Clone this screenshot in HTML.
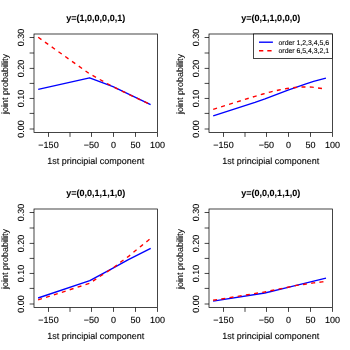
<!DOCTYPE html>
<html><head><meta charset="utf-8"><title>plot</title>
<style>
html,body{margin:0;padding:0;background:#fff;}
body{width:350px;height:350px;overflow:hidden;}
svg{display:block;will-change:transform;}
text{font-family:"Liberation Sans",sans-serif;text-rendering:geometricPrecision;fill:#000;stroke:#000;stroke-width:0.1px;}
.t{font-size:9px;font-weight:bold;text-anchor:middle;stroke-width:0.08px;}
.a{font-size:9px;text-anchor:middle;}
.v{stroke-width:0.04px;}
.l{font-size:6.9px;stroke-width:0.1px;}
.ax{stroke:#000;stroke-width:0.73;fill:none;}
.b{stroke:#0000ff;stroke-width:1.38;fill:none;stroke-linejoin:round;}
.r{stroke:#ff0000;stroke-width:1.38;fill:none;stroke-dasharray:4 4.3;stroke-linejoin:round;}
</style></head><body>
<svg width="350" height="350" viewBox="0 0 350 350">
<rect width="350" height="350" fill="#fff"/>

<g transform="translate(0,0)">
<text class="t" x="95.75" y="21">y=(1,0,0,0,0,1)</text>
<polyline class="b" points="38.2,89.4 89.6,77.8 113.0,86.7 150.6,104.6"/>
<polyline class="r" points="38.2,37.3 89.5,73.8 113.0,86.8 150.6,104.7"/>
<rect class="ax" x="34.0" y="34.0" width="123.5" height="98.5"/>
<path class="ax" d="M48.5 132.5V136.9M70.0 132.5V136.9M91.5 132.5V136.9M113.5 132.5V136.9M135.5 132.5V136.9M157.5 132.5V136.9M34.0 129.00H29.6M34.0 113.40H29.6M34.0 98.45H29.6M34.0 83.40H29.6M34.0 68.40H29.6M34.0 53.00H29.6M34.0 37.50H29.6"/>
<text class="a" x="48.5" y="147.6">−150</text>
<text class="a" x="91.5" y="147.6">−50</text>
<text class="a" x="113.5" y="147.6">0</text>
<text class="a" x="135.5" y="147.6">50</text>
<text class="a" x="157.5" y="147.6">100</text>
<text class="a v" transform="translate(23.9,129.00) rotate(-90)">0.00</text>
<text class="a v" transform="translate(23.9,98.45) rotate(-90)">0.10</text>
<text class="a v" transform="translate(23.9,68.40) rotate(-90)">0.20</text>
<text class="a v" transform="translate(23.9,37.50) rotate(-90)">0.30</text>
<text class="a" x="95.75" y="164.3">1st principial component</text>
<text class="a v" transform="translate(8.1,84) rotate(-90)">joint probability</text>
</g>
<g transform="translate(175,0)">
<text class="t" x="95.75" y="21">y=(0,1,1,0,0,0)</text>
<polyline class="b" points="38.2,115.8 80.0,102.3 90.0,98.8 113.0,90.1 131.0,83.8 138.6,81.4 150.9,78.1"/>
<polyline class="r" points="38.2,109.3 80.0,96.3 88.0,94.0 96.0,91.8 104.0,90.0 112.0,88.5 120.0,87.5 128.6,86.9 137.1,87.1 147.4,88.6 150.9,89.2"/>
<rect class="ax" x="34.0" y="34.0" width="123.5" height="98.5"/>
<path class="ax" d="M48.5 132.5V136.9M70.0 132.5V136.9M91.5 132.5V136.9M113.5 132.5V136.9M135.5 132.5V136.9M157.5 132.5V136.9M34.0 129.00H29.6M34.0 113.40H29.6M34.0 98.45H29.6M34.0 83.40H29.6M34.0 68.40H29.6M34.0 53.00H29.6M34.0 37.50H29.6"/>
<text class="a" x="48.5" y="147.6">−150</text>
<text class="a" x="91.5" y="147.6">−50</text>
<text class="a" x="113.5" y="147.6">0</text>
<text class="a" x="135.5" y="147.6">50</text>
<text class="a" x="157.5" y="147.6">100</text>
<text class="a v" transform="translate(23.9,129.00) rotate(-90)">0.00</text>
<text class="a v" transform="translate(23.9,98.45) rotate(-90)">0.10</text>
<text class="a v" transform="translate(23.9,68.40) rotate(-90)">0.20</text>
<text class="a v" transform="translate(23.9,37.50) rotate(-90)">0.30</text>
<text class="a" x="95.75" y="164.3">1st principial component</text>
<text class="a v" transform="translate(8.1,84) rotate(-90)">joint probability</text>
<rect class="ax" x="78.5" y="34" width="79.0" height="24.5" fill="#fff" style="fill:#fff"/>
<path d="M84 42.2H97.9" style="stroke:#0000ff;stroke-width:1.38"/>
<path d="M84 50.7H97.9" style="stroke:#ff0000;stroke-width:1.38;stroke-dasharray:4.3 4"/>
<text class="l" x="103.5" y="44.6">order 1,2,3,4,5,6</text>
<text class="l" x="103.5" y="53.1">order 6,5,4,3,2,1</text>
</g>
<g transform="translate(0,175)">
<text class="t" x="95.75" y="21">y=(0,0,1,1,1,0)</text>
<polyline class="b" points="38.1,123.0 89.8,105.7 113.0,93.1 128.4,84.6 150.7,73.4"/>
<polyline class="r" points="38.1,124.9 89.5,108.4 102.1,100.0 113.0,93.0 122.1,86.0 128.9,81.1 135.3,75.8 141.7,70.6 148.1,65.5 150.7,63.3"/>
<rect class="ax" x="34.0" y="34.0" width="123.5" height="98.5"/>
<path class="ax" d="M48.5 132.5V136.9M70.0 132.5V136.9M91.5 132.5V136.9M113.5 132.5V136.9M135.5 132.5V136.9M157.5 132.5V136.9M34.0 129.00H29.6M34.0 113.40H29.6M34.0 98.45H29.6M34.0 83.40H29.6M34.0 68.40H29.6M34.0 53.00H29.6M34.0 37.50H29.6"/>
<text class="a" x="48.5" y="147.6">−150</text>
<text class="a" x="91.5" y="147.6">−50</text>
<text class="a" x="113.5" y="147.6">0</text>
<text class="a" x="135.5" y="147.6">50</text>
<text class="a" x="157.5" y="147.6">100</text>
<text class="a v" transform="translate(23.9,129.00) rotate(-90)">0.00</text>
<text class="a v" transform="translate(23.9,98.45) rotate(-90)">0.10</text>
<text class="a v" transform="translate(23.9,68.40) rotate(-90)">0.20</text>
<text class="a v" transform="translate(23.9,37.50) rotate(-90)">0.30</text>
<text class="a" x="95.75" y="164.3">1st principial component</text>
<text class="a v" transform="translate(8.1,84) rotate(-90)">joint probability</text>
</g>
<g transform="translate(175,175)">
<text class="t" x="95.75" y="21">y=(0,0,0,1,1,0)</text>
<polyline class="b" points="38.1,126.1 89.8,118.0 113.0,112.3 151.0,103.1"/>
<polyline class="r" points="38.1,125.3 89.5,117.0 113.0,112.2 121.4,110.4 130.0,109.2 138.6,107.9 147.1,106.9 151.0,106.5"/>
<rect class="ax" x="34.0" y="34.0" width="123.5" height="98.5"/>
<path class="ax" d="M48.5 132.5V136.9M70.0 132.5V136.9M91.5 132.5V136.9M113.5 132.5V136.9M135.5 132.5V136.9M157.5 132.5V136.9M34.0 129.00H29.6M34.0 113.40H29.6M34.0 98.45H29.6M34.0 83.40H29.6M34.0 68.40H29.6M34.0 53.00H29.6M34.0 37.50H29.6"/>
<text class="a" x="48.5" y="147.6">−150</text>
<text class="a" x="91.5" y="147.6">−50</text>
<text class="a" x="113.5" y="147.6">0</text>
<text class="a" x="135.5" y="147.6">50</text>
<text class="a" x="157.5" y="147.6">100</text>
<text class="a v" transform="translate(23.9,129.00) rotate(-90)">0.00</text>
<text class="a v" transform="translate(23.9,98.45) rotate(-90)">0.10</text>
<text class="a v" transform="translate(23.9,68.40) rotate(-90)">0.20</text>
<text class="a v" transform="translate(23.9,37.50) rotate(-90)">0.30</text>
<text class="a" x="95.75" y="164.3">1st principial component</text>
<text class="a v" transform="translate(8.1,84) rotate(-90)">joint probability</text>
</g>
</svg></body></html>
